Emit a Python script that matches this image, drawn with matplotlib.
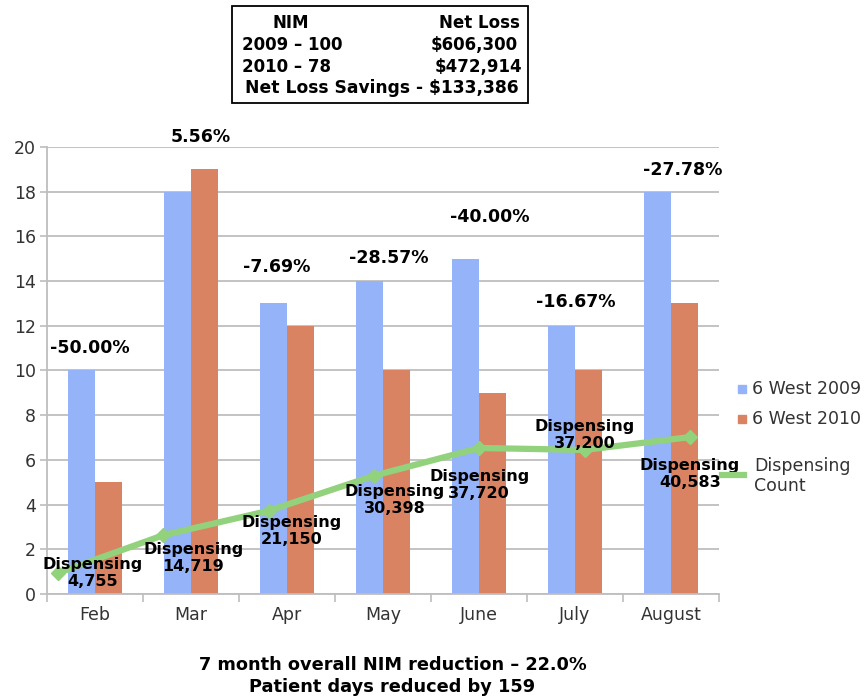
import matplotlib
matplotlib.use("Agg")
import matplotlib.pyplot as plt
from matplotlib.patches import Rectangle
from matplotlib.lines import Line2D
import numpy as np

plt.rcParams['font.family'] = ['DejaVu Sans']

# ---------------- data ----------------
months = ["Feb", "Mar", "Apr", "May", "June", "July", "August"]
west_2009 = [10, 18, 13, 14, 15, 12, 18]
west_2010 = [5, 19, 12, 10, 9, 10, 13]
change_labels = ["-50.00%", "5.56%", "-7.69%", "-28.57%", "-40.00%", "-16.67%", "-27.78%"]
dispensing = [4755, 14719, 21150, 30398, 37720, 37200, 40583]
dispensing_labels = ["4,755", "14,719", "21,150", "30,398", "37,720", "37,200", "40,583"]
yticks = [0, 2, 4, 6, 8, 10, 12, 14, 16, 18, 20]

box_rows = [("NIM", "Net Loss"), ("2009 \u2013 100", "$606,300"),
            ("2010 \u2013 78", "$472,914")]
box_last = "Net Loss Savings - $133,386"
footer = ["7 month overall NIM reduction \u2013 22.0%", "Patient days reduced by 159"]

# ---------------- style / layout ----------------
W, H = 867, 698
BLUE = "#95B3F8"
ORANGE = "#D98362"
GREEN = "#93D27D"
GRID = "#BEBEBE"
TXT = "#333333"

def fx(px):
    return px / W

def fy(py):
    return 1 - py / H

fig = plt.figure(figsize=(W / 100, H / 100), dpi=100)
ax_left, ax_right, ax_top, ax_bot = 47, 719, 147, 594
ax = fig.add_axes([fx(ax_left), fy(ax_bot), fx(ax_right - ax_left), (ax_bot - ax_top) / H])

x = np.arange(len(months))
bw = 0.285
ax.bar(x - bw / 2, west_2009, width=bw, color=BLUE, zorder=2)
ax.bar(x + bw / 2, west_2010, width=bw, color=ORANGE, zorder=2)

ax.set_xlim(-0.5, len(months) - 0.5)
ax.set_ylim(0, 20)
ax.set_yticks(yticks)
ax.set_yticklabels([str(t) for t in yticks], fontsize=12.5, color=TXT)
ax.set_xticks(x)
ax.set_xticklabels(months, fontsize=12.5, color=TXT)
ax.tick_params(axis='x', length=0, pad=9)
ax.tick_params(axis='y', length=5, color=GRID, width=1.2, pad=3)
ax.set_xticks(np.arange(-0.5, len(months), 1), minor=True)
ax.tick_params(axis='x', which='minor', length=6, color=GRID, width=1.2)
ax.grid(axis='y', color=GRID, linewidth=1.3, zorder=0)
ax.set_axisbelow(True)
for s in ["top", "right"]:
    ax.spines[s].set_visible(False)
for s in ["left", "bottom"]:
    ax.spines[s].set_color(GRID)
    ax.spines[s].set_linewidth(1.3)

# percent change labels above each group
pct_offsets = [(-5, 22), (10, 32), (-10, 36), (6, 23), (11, 42), (1, 24), (12, 22)]
for i, lab in enumerate(change_labels):
    top = max(west_2009[i], west_2010[i])
    dx, dy = pct_offsets[i]
    ax.annotate(lab, (x[i], top), xytext=(dx, dy), textcoords='offset pixels',
                ha='center', va='center', fontsize=12.5, fontweight='bold', color='black')

# dispensing line on its own hidden axes
ax2 = fig.add_axes(ax.get_position(), frameon=False)
ax2.plot(x, dispensing, color=GREEN, linewidth=4.5, marker='D', markersize=7,
         markerfacecolor=GREEN, markeredgecolor=GREEN, solid_joinstyle='round', zorder=3)
ax2.set_xlim(-0.104, 6.277)
ax2.set_ylim(-784, 117080)
ax2.set_xticks([])
ax2.set_yticks([])

disp_offsets = [(35, 0), (30, -23), (23, -20), (21, -24), (0, -37), (0, 15), (0, -37)]
for i, lab in enumerate(dispensing_labels):
    dx, dy = disp_offsets[i]
    ax2.annotate("Dispensing\n" + lab, (x[i], dispensing[i]), xytext=(dx, dy),
                 textcoords='offset pixels', ha='center', va='center',
                 fontsize=11.5, fontweight='bold', color='black', linespacing=1.2, zorder=4)

# ---------------- legend (manual) ----------------
sq = 8
fig.patches.append(Rectangle((fx(742 - sq / 2), fy(389 + sq / 2)), fx(sq), sq / H,
                             transform=fig.transFigure, color=BLUE, figure=fig))
fig.patches.append(Rectangle((fx(742 - sq / 2), fy(419 + sq / 2)), fx(sq), sq / H,
                             transform=fig.transFigure, color=ORANGE, figure=fig))
fig.text(fx(752), fy(389), "6 West 2009", fontsize=12.5, color=TXT, va='center', ha='left')
fig.text(fx(752), fy(419), "6 West 2010", fontsize=12.5, color=TXT, va='center', ha='left')
fig.lines.append(Line2D([fx(722), fx(744)], [fy(475), fy(475)], transform=fig.transFigure,
                        color=GREEN, linewidth=4.5, figure=fig))
fig.text(fx(754), fy(476), "Dispensing\nCount", fontsize=12.5, color=TXT, va='center',
         ha='left', linespacing=1.15)

# ---------------- info box ----------------
fig.patches.append(Rectangle((fx(232), fy(103)), fx(528 - 232), (103 - 6) / H,
                             transform=fig.transFigure, fill=False, edgecolor='black',
                             linewidth=1.3, figure=fig))
row_y = [23, 45, 67]
left_x = [272, 242, 242]
right_x = [520, 518, 522]
for (l, r), yy, lx, rx in zip(box_rows, row_y, left_x, right_x):
    fig.text(fx(lx), fy(yy), l, fontsize=12, fontweight='bold', ha='left', va='center')
    fig.text(fx(rx), fy(yy), r, fontsize=12, fontweight='bold', ha='right', va='center')
fig.text(fx(382), fy(88), box_last, fontsize=12.3, fontweight='bold', ha='center', va='center')

# ---------------- footer ----------------
fig.text(fx(393), fy(665), footer[0], fontsize=12.8, fontweight='bold', ha='center', va='center')
fig.text(fx(392), fy(687), footer[1], fontsize=12.8, fontweight='bold', ha='center', va='center')

fig.savefig("out.png", dpi=100)
